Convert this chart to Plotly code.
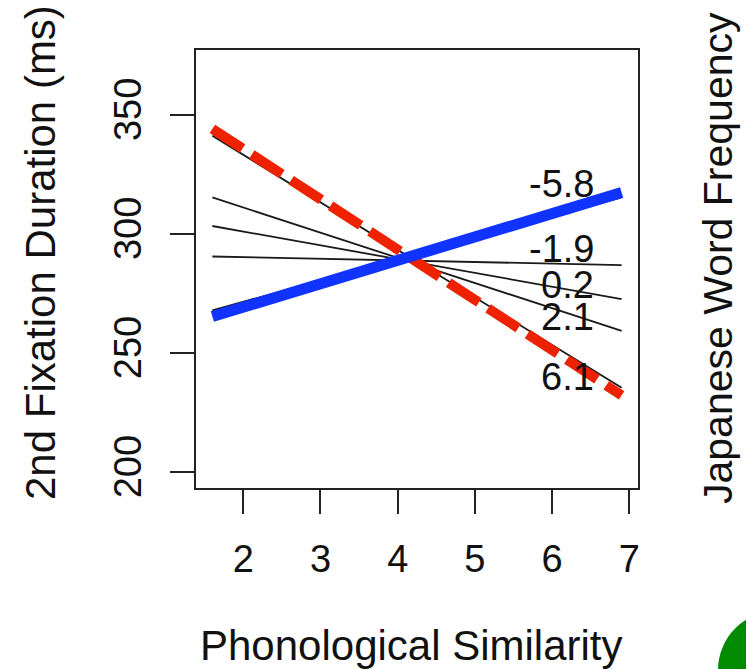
import plotly.graph_objects as go

# ---- data ----
x_ends = [1.6, 6.9]
levels = ["-5.8", "-1.9", "0.2", "2.1", "6.1"]
thin_left = [268.0, 290.6, 303.4, 315.4, 341.3]
thin_right = [315.4, 287.0, 272.7, 259.4, 235.5]
blue_y = [265.4, 317.5]
red_y = [344.2, 232.3]
label_y = [321.0, 293.8, 278.8, 265.2, 240.0]
x_ticks = [2, 3, 4, 5, 6, 7]
y_ticks = [200, 250, 300, 350]

FONT = "Liberation Sans, Arial, sans-serif"
W, H = 746, 669
ML, MR, MT, MB = 196, 108, 50, 181
PW, PH = W - ML - MR, H - MT - MB


def px(p):
    return (p - ML) / PW


def py(p):
    return (H - MB - p) / PH


fig = go.Figure()

for lv, yl, yr in zip(levels, thin_left, thin_right):
    fig.add_trace(go.Scatter(x=x_ends, y=[yl, yr], mode="lines",
                             line=dict(color="#1a1a1a", width=1.8),
                             showlegend=False, hoverinfo="skip"))

fig.add_trace(go.Scatter(x=x_ends, y=red_y, mode="lines",
                         line=dict(color="#EE2200", width=10, dash="36px,11px"),
                         showlegend=False, hoverinfo="skip"))
fig.add_trace(go.Scatter(x=x_ends, y=blue_y, mode="lines",
                         line=dict(color="#1133FF", width=11),
                         showlegend=False, hoverinfo="skip"))

annotations = []
for lv, ly in zip(levels, label_y):
    annotations.append(dict(x=6.57, y=ly, xref="x", yref="y", text=lv,
                            showarrow=False, xanchor="right", yanchor="middle",
                            font=dict(family=FONT, size=38, color="#111111")))

annotations.append(dict(x=px(411), y=py(645), xref="paper", yref="paper",
                        text="Phonological Similarity", showarrow=False,
                        xanchor="center", yanchor="middle",
                        font=dict(family=FONT, size=42, color="#111111")))
annotations.append(dict(x=px(40), y=py(253), xref="paper", yref="paper",
                        text="2nd Fixation Duration (ms)", showarrow=False,
                        textangle=-90, xanchor="center", yanchor="middle",
                        font=dict(family=FONT, size=42, color="#111111")))
annotations.append(dict(x=px(718), y=py(258), xref="paper", yref="paper",
                        text="Japanese Word Frequency", showarrow=False,
                        textangle=-90, xanchor="center", yanchor="middle",
                        font=dict(family=FONT, size=41, color="#111111")))

fig.update_layout(
    width=W, height=H,
    margin=dict(l=ML, r=MR, t=MT, b=MB, pad=0),
    paper_bgcolor="white", plot_bgcolor="white",
    annotations=annotations,
    shapes=[dict(type="circle", xref="paper", yref="paper",
                 x0=px(718), x1=px(836), y0=py(729), y1=py(611),
                 fillcolor="#008B00", line=dict(width=0), layer="above")],
    xaxis=dict(range=[1.388, 7.112], tickvals=x_ticks, ticks="outside",
               ticklen=24, tickwidth=1.8, tickcolor="#222222",
               ticklabelstandoff=12,
               showline=True, mirror=True, linecolor="#222222", linewidth=2,
               showgrid=False, zeroline=False,
               tickfont=dict(family=FONT, size=38, color="#111111")),
    yaxis=dict(range=[193.4, 377.3], tickvals=y_ticks, ticks="outside",
               ticklen=24, tickwidth=1.8, tickcolor="#222222", tickangle=-90,
               ticklabelstandoff=14,
               showline=True, mirror=True, linecolor="#222222", linewidth=2,
               showgrid=False, zeroline=False,
               tickfont=dict(family=FONT, size=38, color="#111111")),
)

fig.write_html("out.html")
